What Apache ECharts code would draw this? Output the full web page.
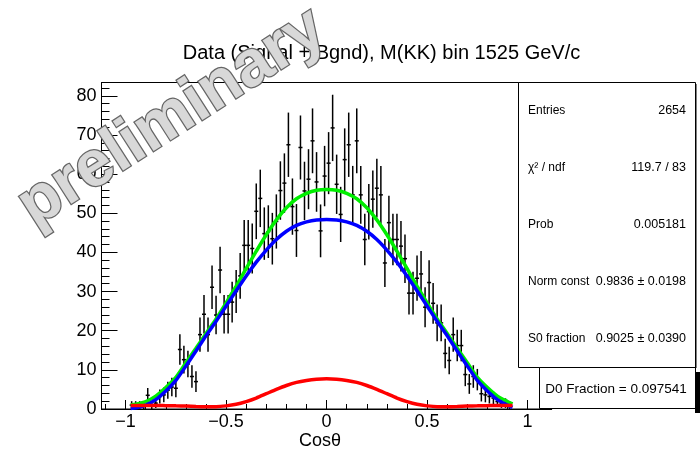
<!DOCTYPE html>
<html><head><meta charset="utf-8">
<script src="https://cdn.jsdelivr.net/npm/echarts@6/dist/echarts.min.js"></script>
<style>html,body{margin:0;padding:0;background:#fff}#c{width:700px;height:453px}</style>
</head><body><div id="c"></div>
<script>
// ---- data ----
const binCenters = [
 -0.97,-0.95,-0.93,-0.91,-0.89,-0.87,-0.85,-0.83,-0.81,-0.79,
 -0.77,-0.75,-0.73,-0.71,-0.69,-0.67,-0.65,-0.63,-0.61,-0.59,
 -0.57,-0.55,-0.53,-0.51,-0.49,-0.47,-0.45,-0.43,-0.41,-0.39,
 -0.37,-0.35,-0.33,-0.31,-0.29,-0.27,-0.25,-0.23,-0.21,-0.19,
 -0.17,-0.15,-0.13,-0.11,-0.09,-0.07,-0.05,-0.03,-0.01,
 0.01,0.03,0.05,0.07,0.09,0.11,0.13,0.15,0.17,0.19,
 0.21,0.23,0.25,0.27,0.29,0.31,0.33,0.35,0.37,0.39,
 0.41,0.43,0.45,0.47,0.49,0.51,0.53,0.55,0.57,0.59,
 0.61,0.63,0.65,0.67,0.69,0.71,0.73,0.75,0.77,0.79,
 0.81,0.83,0.85,0.87,0.89,0.91
];
const counts = [
 1.0,1.0,1.0,1.0,3.5,1.0,1.5,3.2,3.6,4.8,
 5.6,5.3,15.2,12.6,11.5,8.3,7.0,19.0,24.2,19.0,
 31.1,24.0,35.5,24.2,24.2,27.3,30.0,34.0,41.8,41.8,
 41.0,50.5,53.8,44.8,45.3,43.5,47.9,55.8,57.7,67.5,
 51.7,45.6,66.8,55.7,58.7,68.5,58.0,45.5,59.5,
 62.8,71.8,57.4,49.7,63.7,67.5,54.7,68.5,54.7,43.3,
 50.4,53.6,56.4,54.7,37.3,47.6,43.3,43.3,41.6,38.4,
 29.6,29.6,33.4,34.5,26.0,32.3,27.0,22.0,22.0,14.2,
 12.4,19.0,16.2,16.2,8.8,6.4,8.3,7.5,3.9,3.6,
 3.2,2.8,1.9,1.5,1.5,1.0
];
const binHalfWidth = 0.01;

const curveX = [-0.975,-0.95,-0.9,-0.85,-0.8,-0.75,-0.7,-0.65,-0.6,-0.55,-0.5,-0.45,-0.4,-0.35,-0.3,-0.25,-0.2,-0.15,-0.1,-0.05,
  0,0.05,0.1,0.15,0.2,0.25,0.3,0.35,0.4,0.45,0.5,0.55,0.6,0.65,0.7,0.75,0.8,0.85,0.9,0.925];
const totalFit = [1.0,1.2,1.9,3.3,5.5,8.1,11.8,15.5,19.3,23.0,27.1,31.4,35.9,40.3,44.5,48.3,51.4,53.7,55.1,55.9,
  56.1,55.9,55.1,53.7,51.4,48.3,44.5,40.3,35.9,31.4,27.1,23.0,19.3,15.5,11.8,8.1,5.5,3.3,1.9,1.3];
const s0Fit = [0.1,0.3,1.0,2.4,4.6,7.3,11.0,14.8,18.7,22.4,26.3,30.2,34.0,37.5,40.6,43.3,45.4,46.9,47.8,48.3,
  48.4,48.3,47.8,46.9,45.4,43.3,40.6,37.5,34.0,30.2,26.3,22.4,18.7,14.8,11.0,7.3,4.6,2.4,1.0,0.4];
const d0Fit = [0.9,0.9,0.9,0.9,0.85,0.8,0.75,0.65,0.6,0.6,0.8,1.2,1.9,2.8,3.9,5.0,6.0,6.8,7.3,7.6,
  7.7,7.6,7.3,6.8,6.0,5.0,3.9,2.8,1.9,1.2,0.8,0.6,0.6,0.65,0.75,0.8,0.85,0.9,0.9,0.9];

const xMajorTicks = [-1,-0.5,0,0.5,1];
const xMinorTicks = [-1.1,-0.9,-0.8,-0.7,-0.6,-0.4,-0.3,-0.2,-0.1,0.1,0.2,0.3,0.4,0.6,0.7,0.8,0.9,1.1];
const yMajorTicks = [0,10,20,30,40,50,60,70,80];
const yMinorTicks = [2,4,6,8,12,14,16,18,22,24,26,28,32,34,36,38,42,44,46,48,52,54,56,58,62,64,66,68,72,74,76,78,82];

const titleText = 'Data (Signal + Bgnd), M(KK) bin 1525 GeV/c';
const xTitle = 'Cosθ';
const statsLabels = ['Entries','χ² / ndf','Prob','Norm const','S0 fraction'];
const statsValues = ['2654','119.7 / 83','0.005181','0.9836 ± 0.0198','0.9025 ± 0.0390'];
const d0Text = 'D0 Fraction = 0.097541';
const watermark = 'preliminary';

// ---- chart ----
const FONT = '"Liberation Sans", Arial, Helvetica, sans-serif';
const chart = echarts.init(document.getElementById('c'), null, {renderer:'canvas'});
const minus = v => (v < 0 ? '\u2212' : '') + Math.abs(v);

const graphics = [
  {type:'text', x:381.5, y:53, z:50, style:{text:titleText, font:'20px ' + FONT, fill:'#000', align:'center', verticalAlign:'middle'}},
  {type:'text', x:320, y:441, z:50, style:{text:xTitle, font:'18px ' + FONT, fill:'#000', align:'center', verticalAlign:'middle'}},
  // stats box
  {type:'rect', z:100, shape:{x:518.5, y:82.5, width:177, height:285}, style:{fill:'#fff', stroke:'#000', lineWidth:1}},
  {type:'rect', z:101, shape:{x:695, y:84, width:1.5, height:284}, style:{fill:'#000'}},
  // D0 box
  {type:'rect', z:100, shape:{x:539.5, y:367.5, width:156, height:41}, style:{fill:'#fff', stroke:'#000', lineWidth:1}},
  {type:'rect', z:101, shape:{x:695, y:372, width:5, height:41}, style:{fill:'#000'}},
  {type:'text', x:616, y:389, z:102, style:{text:d0Text, font:'13.5px ' + FONT, fill:'#000', align:'center', verticalAlign:'middle'}},
  // watermark
  {type:'text', x:172, y:118, rotation:0.57, z:200,
   style:{text:watermark, font:'bold 65px ' + FONT, fill:'#d8d8d8', stroke:'#666', lineWidth:2.5,
          align:'center', verticalAlign:'middle',
          shadowColor:'rgba(0,0,0,0.45)', shadowBlur:5, shadowOffsetX:3, shadowOffsetY:3}}
];
const rowY = [110.8, 167.8, 224.8, 281.8, 338.8];
statsLabels.forEach((t, i) => {
  graphics.push({type:'text', x:528, y:rowY[i], z:102, style:{text:t, font:'12px ' + FONT, fill:'#000', align:'left', verticalAlign:'middle'}});
  graphics.push({type:'text', x:686, y:rowY[i], z:102, style:{text:statsValues[i], font:'12.5px ' + FONT, fill:'#000', align:'right', verticalAlign:'middle'}});
});

const curve = (ys, color, z) => ({
  type:'line', xAxisIndex:0, yAxisIndex:0, z:z, smooth:0.25, showSymbol:false, symbol:'none',
  data: curveX.map((x, i) => [x, ys[i]]),
  lineStyle:{color:color, width:3.5}, silent:true
});

chart.setOption({
  animation:false,
  backgroundColor:'#fff',
  grid:{left:101.5, top:82.5, width:450.2, height:326.5, show:true, borderColor:'#000', borderWidth:1, backgroundColor:'transparent'},
  xAxis:[
    {type:'value', min:-1.12, max:1.12, position:'bottom',
     axisLine:{show:true, onZero:false, lineStyle:{color:'#000', width:1}},
     axisTick:{show:true, inside:true, length:9, customValues:xMajorTicks, lineStyle:{color:'#000', width:1}},
     axisLabel:{show:true, customValues:xMajorTicks, formatter:minus, fontSize:18, fontFamily:FONT, color:'#000', margin:4},
     splitLine:{show:false}},
    {type:'value', min:-1.12, max:1.12, position:'bottom',
     axisLine:{show:false, onZero:false}, axisLabel:{show:false}, splitLine:{show:false},
     axisTick:{show:true, inside:true, length:5, customValues:xMinorTicks, lineStyle:{color:'#000', width:1}}}
  ],
  yAxis:[
    {type:'value', min:0, max:83.4, position:'left',
     axisLine:{show:true, onZero:false, lineStyle:{color:'#000', width:1}},
     axisTick:{show:true, inside:true, length:16, customValues:yMajorTicks, lineStyle:{color:'#000', width:1}},
     axisLabel:{show:true, customValues:yMajorTicks, fontSize:18, fontFamily:FONT, color:'#000', margin:5},
     splitLine:{show:false}},
    {type:'value', min:0, max:83.4, position:'left',
     axisLine:{show:false, onZero:false}, axisLabel:{show:false}, splitLine:{show:false},
     axisTick:{show:true, inside:true, length:8, customValues:yMinorTicks, lineStyle:{color:'#000', width:1}}}
  ],
  series:[
    {type:'custom', xAxisIndex:0, yAxisIndex:0, z:2, silent:true,
     data: binCenters.map((x, i) => [x, counts[i], Math.sqrt(counts[i])]),
     renderItem:(params, api) => {
       const x = api.value(0), y = api.value(1), e = api.value(2);
       const t = api.coord([x, y + e]), b = api.coord([x, Math.max(0, y - e)]);
       const l = api.coord([x - binHalfWidth, y]), r = api.coord([x + binHalfWidth, y]);
       return {type:'group', children:[
         {type:'line', shape:{x1:t[0], y1:t[1], x2:b[0], y2:b[1]}, style:{stroke:'#000', lineWidth:1.5}},
         {type:'line', shape:{x1:l[0], y1:l[1], x2:r[0], y2:r[1]}, style:{stroke:'#000', lineWidth:1.5}}
       ]};
     }},
    curve(totalFit, '#00ee00', 3),
    curve(s0Fit, '#0000ff', 4),
    curve(d0Fit, '#ff0000', 5)
  ],
  graphic: graphics
});
</script>
</body></html>
